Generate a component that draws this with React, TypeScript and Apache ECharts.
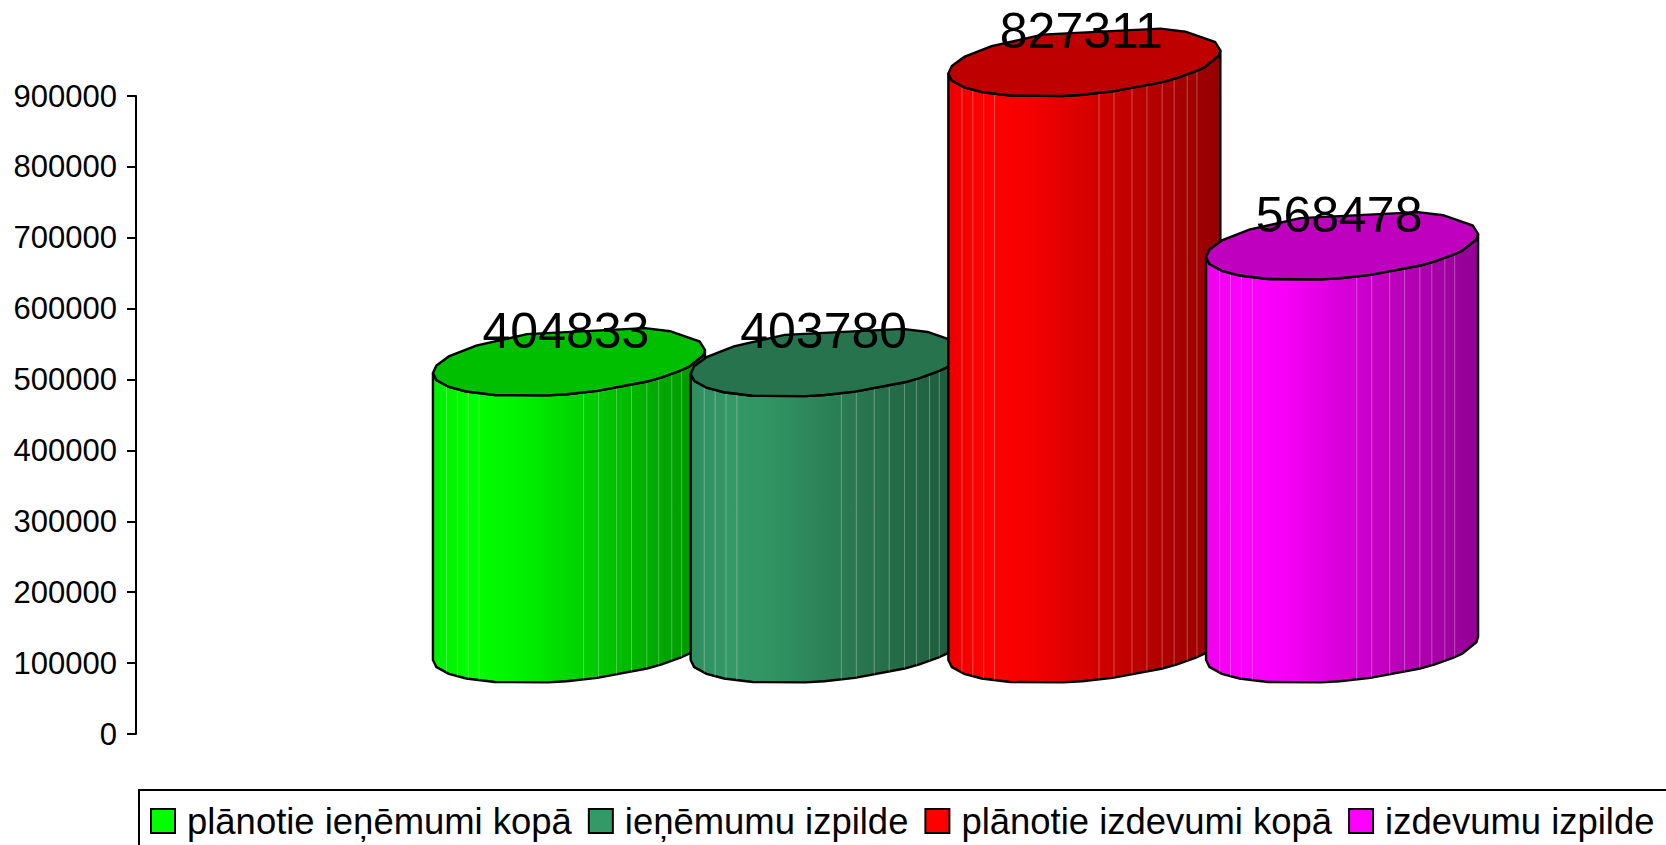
import React, { useEffect, useRef } from "react";
import * as echarts from "echarts";

const categories = ["plānotie ieņēmumi kopā", "ieņēmumu izpilde", "plānotie izdevumi kopā", "izdevumu izpilde"];
const values = [404833, 403780, 827311, 568478];
const colors = [[0, 255, 0], [51, 153, 102], [255, 0, 0], [255, 0, 255]];
const facetFractions = [0.05, 0.09, 0.13, 0.17, 0.554, 0.609, 0.675, 0.73, 0.786, 0.83, 0.878, 0.914];
const shadeStops: [number, number][] = [[0, 0.93], [0.14, 1], [0.3, 0.96], [0.55, 0.82], [0.8, 0.68], [1, 0.58]];
// outline vertices of the faceted cylinder, as angles round its tilted ellipse
const frontAngles = [0, 9, 28, 35, 47, 55, 78, 91, 99, 123, 139, 152, 167, 180];
const backAngles = [193, 208, 227, 252, 304, 318, 344];

const FONT = '"Liberation Sans", Arial, sans-serif';
const RX = 136;
const RY = 32.5;
const TILT = 11.5;
const LIFT = 74;

const rgb = (c: number[], f: number) => `rgb(${c.map((v) => Math.round(v * f)).join(",")})`;

function makeSeries(i: number) {
  return {
    type: "custom",
    name: categories[i],
    clip: false,
    encode: { x: 0, y: 1 },
    data: [[i, values[i]]],
    renderItem: (_p: any, api: any) => {
      const top = api.coord([api.value(0), api.value(1)]);
      const base = api.coord([api.value(0), 0]);
      const cx = top[0];
      const topY = top[1] - LIFT - TILT;
      const baseY = base[1] - LIFT - TILT;
      const pt = (deg: number, cy: number) => {
        const t = (deg * Math.PI) / 180;
        return [cx + RX * Math.cos(t), cy + RY * Math.sin(t) - TILT * Math.cos(t)];
      };
      const front = (cy: number) => frontAngles.map((d) => pt(d, cy));
      const body = [...front(baseY), ...front(topY).reverse()];
      const cap = [...front(topY), ...backAngles.map((d) => pt(d, topY))];
      const frontTop = front(topY);
      const lines = facetFractions.map((f) => {
        const x = cx - RX + 2 * RX * f;
        let y = frontTop[0][1];
        for (let s = 0; s < frontTop.length - 1; s++) {
          const [x0, y0] = frontTop[s];
          const [x1, y1] = frontTop[s + 1];
          if (x <= x0 && x >= x1) y = y0 + ((y1 - y0) * (x0 - x)) / (x0 - x1 || 1);
        }
        return {
          type: "line",
          shape: { x1: x, y1: y, x2: x, y2: y + baseY - topY },
          style: { stroke: "rgba(255,255,255,0.3)", lineWidth: 1 },
        };
      });
      return {
        type: "group",
        children: [
          {
            type: "polygon",
            shape: { points: body },
            style: {
              fill: {
                type: "linear",
                x: 0,
                y: 0,
                x2: 1,
                y2: 0,
                colorStops: shadeStops.map(([offset, f]) => ({ offset, color: rgb(colors[i], f) })),
              },
              stroke: "#000",
              lineWidth: 2.4,
            },
          },
          ...lines,
          {
            type: "polygon",
            shape: { points: cap },
            style: { fill: rgb(colors[i], 0.75), stroke: "#000", lineWidth: 2.4 },
          },
          {
            type: "text",
            x: cx - 3,
            y: topY - 31,
            style: {
              text: String(values[i]),
              fill: "#000",
              font: `50px ${FONT}`,
              align: "center",
              verticalAlign: "middle",
            },
          },
        ],
      };
    },
  };
}

export default function App() {
  const ref = useRef<HTMLDivElement>(null);
  useEffect(() => {
    const chart = echarts.init(ref.current!, undefined, { renderer: "svg" });
    chart.setOption({
      animation: false,
      backgroundColor: "#fff",
      grid: { left: 136, top: 96, width: 1530, height: 638, containLabel: false },
      xAxis: { type: "value", show: false, min: -1.68, max: 4.257 },
      yAxis: {
        type: "value",
        min: 0,
        max: 900000,
        interval: 100000,
        splitLine: { show: false },
        axisLine: { show: true, onZero: false, lineStyle: { color: "#000", width: 2 } },
        axisTick: { show: true, length: 9, lineStyle: { color: "#000", width: 2 } },
        axisLabel: {
          color: "#000",
          fontSize: 31,
          fontFamily: FONT,
          margin: 19,
          padding: [0, 0, 5, 0],
          formatter: (v: number) => String(v),
        },
      },
      legend: {
        left: 145,
        top: 798,
        width: 1700,
        padding: 5,
        itemGap: 16,
        itemWidth: 24,
        itemHeight: 24,
        textStyle: { color: "#000", fontSize: 36.45, fontFamily: FONT, padding: [5, 0, 0, 7] },
        data: categories.map((name, i) => ({
          name,
          icon: "rect",
          itemStyle: { color: rgb(colors[i], 1), borderColor: "#000", borderWidth: 2 },
        })),
      },
      graphic: [
        {
          type: "rect",
          shape: { x: 139, y: 790, width: 1600, height: 100 },
          style: { fill: "none", stroke: "#000", lineWidth: 2 },
          silent: true,
        },
      ],
      series: categories.map((_, i) => makeSeries(i)),
    });
    return () => chart.dispose();
  }, []);
  return <div ref={ref} style={{ position: "absolute", left: 0, top: 0, width: 1666, height: 845 }} />;
}
